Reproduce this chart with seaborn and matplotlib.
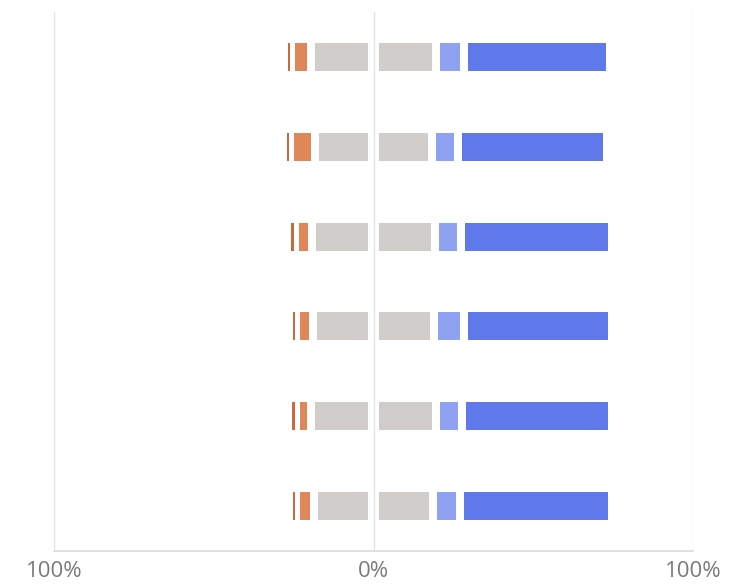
import matplotlib
matplotlib.use("Agg")
import matplotlib.pyplot as plt
import seaborn as sns
import numpy as np

sns.set_theme(style="white")
plt.rcParams['font.family'] = ['Open Sans', 'DejaVu Sans']

# === Likert shares per row (percent) ===
rows = ['Q1', 'Q2', 'Q3', 'Q4', 'Q5', 'Q6']
strongly_disagree = [1.3, 1.2, 1.4, 1.5, 1.5, 1.5]
disagree = [5.7, 7.4, 5.0, 5.0, 4.4, 5.0]
neutral = [39.4, 36.6, 38.4, 37.7, 39.0, 37.4]
agree = [8.5, 8.2, 8.1, 9.5, 8.3, 8.3]
strongly_agree = [44.5, 45.2, 46.0, 44.9, 45.5, 46.4]
tick_values = [-100, 0, 100]
tick_labels = ['100%', '0%', '100%']

colors = {
    'sd': '#c8693f',
    'd': '#e0875a',
    'n': '#d0cdca',
    'a': '#8fa1f1',
    'sa': '#5f79ea',
}
# white gap (percent units) at the inner edge of each segment
inner_gap = {'n': 1.6, 'd': 1.25, 'a': 1.25, 'sd': 0.8, 'sa': 1.25}
# and at the outer edge
outer_gap = {'n': 1.25, 'd': 0.8, 'a': 1.25, 'sd': 0, 'sa': 0}
MIN_W = 0.7

fig = plt.figure(figsize=(7.32, 5.85), dpi=100)
ax = fig.add_axes([54 / 732, 34 / 585, (693 - 54) / 732, (573 - 34) / 585])

y = np.arange(len(rows))
half_n = np.array(neutral) / 2

left_parts = [(half_n, 'n'), (np.array(disagree), 'd'), (np.array(strongly_disagree), 'sd')]
right_parts = [(half_n, 'n'), (np.array(agree), 'a'), (np.array(strongly_agree), 'sa')]

for parts, sign in [(left_parts, -1), (right_parts, 1)]:
    start = np.zeros(len(rows))
    for w, key in parts:
        vis = np.maximum(w - inner_gap[key] - outer_gap[key], MIN_W)
        a = start + inner_gap[key]
        ax.barh(y, sign * vis, left=sign * a, height=0.31,
                color=colors[key], linewidth=0)
        start = start + w

ax.set_xlim(-100, 100)
ax.set_ylim(len(rows) - 0.5, -0.5)
ax.set_yticks([])
ax.set_xticks(tick_values)
ax.set_xticklabels(tick_labels, fontsize=16, color='#7a7a7a')
ax.tick_params(axis='x', length=0, pad=7)
for v in tick_values:
    ax.axvline(v, color='#e3e3e3', linewidth=1, zorder=0)
for side in ['top', 'left', 'right']:
    ax.spines[side].set_visible(False)
ax.spines['bottom'].set_color('#dcdcdc')
ax.spines['bottom'].set_linewidth(1.2)

fig.savefig('out.png', dpi=100, facecolor='white')
